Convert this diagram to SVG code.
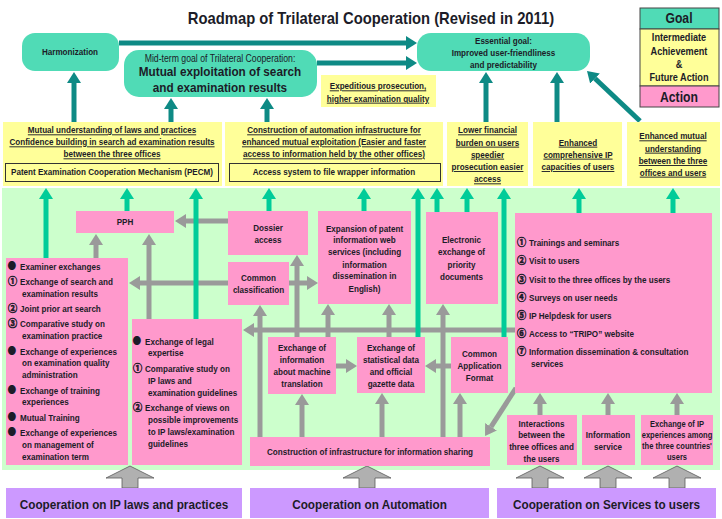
<svg xmlns="http://www.w3.org/2000/svg" width="722" height="519" viewBox="0 0 722 519">
<defs>
<style>
.t{font-family:"Liberation Sans",Arial,"Noto Sans CJK JP",sans-serif;font-weight:bold;font-size:9.3px;fill:#1c1c28}
.c{text-anchor:middle}
.u{text-decoration:underline}
.b{font-family:"Noto Sans CJK JP",sans-serif;font-size:10px}
.n{font-size:10.5px;stroke:#1c1c28;stroke-width:0.6}
.goal{fill:#50dbb6}
.int{fill:#ffff99}
.act{fill:#ff99cc}
.coop{fill:#cc99ff}
.tk{stroke:#0e8a85;stroke-width:5;fill:none;marker-end:url(#hk)}
.gr{stroke:#00cc99;stroke-width:5;fill:none;marker-end:url(#hr)}
.gy{stroke:#9a9a9a;stroke-width:5;fill:none;marker-end:url(#hy)}
.big{fill:#b0b0b0;stroke:#5a5a5a;stroke-width:0.8}
</style>
<marker id="hk" viewBox="0 0 11 14" markerWidth="11" markerHeight="14" refX="0" refY="7" orient="auto" markerUnits="userSpaceOnUse"><path d="M0,0 L11,7 L0,14 z" fill="#0e8a85"/></marker>
<marker id="hr" viewBox="0 0 11 14" markerWidth="11" markerHeight="14" refX="0" refY="7" orient="auto" markerUnits="userSpaceOnUse"><path d="M0,0 L11,7 L0,14 z" fill="#00cc99"/></marker>
<marker id="hy" viewBox="0 0 11 14" markerWidth="11" markerHeight="14" refX="0" refY="7" orient="auto" markerUnits="userSpaceOnUse"><path d="M0,0 L11,7 L0,14 z" fill="#9a9a9a"/></marker>
</defs>
<rect width="722" height="519" fill="#ffffff"/>
<rect x="2" y="188" width="718" height="282" fill="#ccffcc"/>

<g id="title"><g transform="matrix(.87 0 0 1 48.23 0)"><text class="t c" x="371" y="24" style="font-size:17px">Roadmap of Trilateral Cooperation (Revised in 2011)</text></g></g>

<g id="legend">
<rect x="640" y="8" width="79" height="21" class="goal" stroke="#444" stroke-width="1"/>
<rect x="640" y="29" width="79" height="57" class="int" stroke="#444" stroke-width="1"/>
<rect x="640" y="86" width="79" height="21" class="act" stroke="#444" stroke-width="1"/>
<g transform="matrix(.87 0 0 1 88.27 0)">
<text class="t c" x="679" y="23.3" style="font-size:14px">Goal</text>
<text class="t c" x="679" y="41.5" style="font-size:10.5px">Intermediate</text>
<text class="t c" x="679" y="54.8" style="font-size:10.5px">Achievement</text>
<text class="t c" x="679" y="68" style="font-size:10.5px">&amp;</text>
<text class="t c" x="679" y="81.1" style="font-size:10.5px">Future Action</text>
<text class="t c" x="679" y="101.7" style="font-size:14px">Action</text>
</g>
</g>

<g id="connectors">
<path class="gy" d="M228,221 H186"/>
<path class="gy" d="M96,258 V245"/>
<path class="gy" d="M149,319 V245"/>
<path class="gy" d="M228,283 H140"/>
<path class="gy" d="M289,283 H307"/>
<path class="gy" d="M515,330 H254"/>
<path class="gy" d="M260,437 V316"/>
<path class="gy" d="M297,337 V266"/>
<path class="gy" d="M328,337 V315"/>
<path class="gy" d="M389,337 V315"/>
<path class="gy" d="M443,437 V315"/>
<path class="gy" d="M302,437 V405"/>
<path class="gy" d="M382,437 V404"/>
<path class="gy" d="M460,437 V404"/>
<path class="gy" d="M336,366 H346"/>
<path class="gy" d="M451,366 H436"/>
<path class="gy" d="M516,388 L491,426.8"/>
<path class="gy" d="M540,415 V404"/>
<path class="gy" d="M608,415 V404"/>
<path class="gy" d="M677,415 V404"/>
<path class="gr" d="M46,258 V199"/>
<path class="gr" d="M127,211 V199"/>
<path class="gr" d="M196,319 V199"/>
<path class="gr" d="M269,211 V199"/>
<path class="gr" d="M364,211 V199"/>
<path class="gr" d="M418,337 V199"/>
<path class="gr" d="M437,212 V199"/>
<path class="gr" d="M467,212 V199"/>
<path class="gr" d="M504,337 V199"/>
<path class="gr" d="M579,213 V199"/>
<path class="gr" d="M673,213 V199"/>
<path class="tk" d="M119,43 H406"/>
<path class="tk" d="M317,63 H406"/>
<path class="tk" d="M74,122 V83"/>
<path class="tk" d="M171,122 V109"/>
<path class="tk" d="M267,122 V109"/>
<path class="tk" d="M486,122 V83"/>
<path class="tk" d="M557,122 V83"/>
<path class="tk" d="M640,121 L595,78.5"/>
<polygon class="big" points="130,466 154,478 138,478 138,488 122,488 122,478 106,478"/>
<polygon class="big" points="367,466 391,478 375,478 375,488 359,488 359,478 343,478"/>
<polygon class="big" points="540,466 564,478 548,478 548,488 532,488 532,478 516,478"/>
<polygon class="big" points="608,466 632,478 616,478 616,488 600,488 600,478 584,478"/>
<polygon class="big" points="677,466 701,478 685,478 685,488 669,488 669,478 653,478"/>
</g>

<g id="harmonization">
<rect x="22" y="33" width="97" height="38" rx="13" class="goal"/>
<g transform="matrix(.87 0 0 1 9.1 0)"><text class="t c" x="70" y="55.5">Harmonization</text></g>
</g>
<g id="midterm">
<rect x="124" y="50" width="193" height="47" rx="15" class="goal"/>
<g transform="matrix(.87 0 0 1 28.6 0)">
<text class="t c" x="220" y="62" style="font-size:10px;font-weight:normal">Mid-term goal of Trilateral Cooperation:</text>
<text class="t c" x="220" y="76.5" style="font-size:13.5px">Mutual exploitation of search</text>
<text class="t c" x="220" y="92" style="font-size:13.5px">and examination results</text>
</g>
</g>
<g id="essential">
<rect x="417" y="33" width="173" height="38" rx="14" class="goal"/>
<g transform="matrix(.87 0 0 1 65.46 0)">
<text class="t c" x="503.5" y="44.3">Essential goal:</text>
<text class="t c" x="503.5" y="56">Improved user-friendliness</text>
<text class="t c" x="503.5" y="67.6">and predictability</text>
</g>
</g>
<g id="expeditious">
<rect x="321" y="75" width="115" height="32" class="int"/>
<g transform="matrix(.87 0 0 1 49.14 0)">
<text class="t c u" x="378" y="89.3">Expeditious prosecution,</text>
<text class="t c u" x="378" y="101.6">higher examination quality</text>
</g>
</g>

<g id="int-laws">
<rect x="3" y="122" width="219" height="64" class="int"/>
<rect x="5.5" y="163.5" width="213" height="18" fill="none" stroke="#333" stroke-width="1"/>
<g transform="matrix(.87 0 0 1 14.56 0)">
<text class="t c u" x="112" y="133.3">Mutual understanding of laws and practices</text>
<text class="t c u" x="112" y="145.3">Confidence building in search ad examination results</text>
<text class="t c u" x="112" y="157.3">between the three offices</text>
<text class="t c" x="112" y="175.5">Patent Examination Cooperation Mechanism (PECM)</text>
</g>
</g>
<g id="int-automation">
<rect x="225" y="122" width="218" height="64" class="int"/>
<rect x="229.5" y="163.5" width="211" height="18" fill="none" stroke="#333" stroke-width="1"/>
<g transform="matrix(.87 0 0 1 43.42 0)">
<text class="t c u" x="334" y="133.3">Construction of automation infrastructure for</text>
<text class="t c u" x="334" y="145.3">enhanced mutual exploitation (Easier and faster</text>
<text class="t c u" x="334" y="157.3">access to information held by the other offices)</text>
<text class="t c" x="334" y="175.5">Access system to file wrapper information</text>
</g>
</g>
<g id="int-burden">
<rect x="447" y="122" width="81" height="64" class="int"/>
<g transform="matrix(.87 0 0 1 63.38 0)">
<text class="t c u" x="487.5" y="133.3">Lower financial</text>
<text class="t c u" x="487.5" y="145.6">burden on users</text>
<text class="t c u" x="487.5" y="157.6">speedier</text>
<text class="t c u" x="487.5" y="170">prosecution easier</text>
<text class="t c u" x="487.5" y="182.3">access</text>
</g>
</g>
<g id="int-capacities">
<rect x="533" y="122" width="89" height="64" class="int"/>
<g transform="matrix(.87 0 0 1 75.14 0)">
<text class="t c u" x="578" y="145.6">Enhanced</text>
<text class="t c u" x="578" y="157.6">comprehensive IP</text>
<text class="t c u" x="578" y="170">capacities of users</text>
</g>
</g>
<g id="int-understanding">
<rect x="627" y="122" width="93" height="64" class="int"/>
<g transform="matrix(.87 0 0 1 87.49 0)">
<text class="t c u" x="673" y="139.3">Enhanced mutual</text>
<text class="t c u" x="673" y="151.6">understanding</text>
<text class="t c u" x="673" y="164">between the three</text>
<text class="t c u" x="673" y="175.6">offices and users</text>
</g>
</g>

<g id="pph">
<rect x="76" y="211" width="98" height="22" class="act"/>
<g transform="matrix(.87 0 0 1 16.25 0)"><text class="t c" x="125" y="225.5">PPH</text></g>
</g>
<g id="examiner-list">
<rect x="6" y="258" width="122" height="207" class="act"/>
<g transform="matrix(.87 0 0 1 1.04 0)">
<text class="t" y="270.3"><tspan class="b" x="7.5">●</tspan><tspan x="21.8">Examiner exchanges</tspan></text>
<text class="t" y="285.3"><tspan class="n" x="8">①</tspan><tspan x="21.8">Exchange of search and</tspan></text>
<text class="t" x="24.1" y="297.3">examination results</text>
<text class="t" y="312.3"><tspan class="n" x="8">②</tspan><tspan x="21.8">Joint prior art search</tspan></text>
<text class="t" y="327.3"><tspan class="n" x="8">③</tspan><tspan x="21.8">Comparative study on</tspan></text>
<text class="t" x="24.1" y="339.3">examination practice</text>
<text class="t" y="355.3"><tspan class="b" x="7.5">●</tspan><tspan x="21.8">Exchange of experiences</tspan></text>
<text class="t" x="24.1" y="366.3">on examination quality</text>
<text class="t" x="24.1" y="378.3">administration</text>
<text class="t" y="394.3"><tspan class="b" x="7.5">●</tspan><tspan x="21.8">Exchange of training</tspan></text>
<text class="t" x="24.1" y="405.3">experiences</text>
<text class="t" y="421.3"><tspan class="b" x="7.5">●</tspan><tspan x="21.8">Mutual Training</tspan></text>
<text class="t" y="436.3"><tspan class="b" x="7.5">●</tspan><tspan x="21.8">Exchange of experiences</tspan></text>
<text class="t" x="24.1" y="448.3">on management of</text>
<text class="t" x="24.1" y="460.3">examination term</text>
</g>
</g>
<g id="legal-list">
<rect x="132" y="319" width="110" height="146" class="act"/>
<g transform="matrix(.87 0 0 1 17.29 0)">
<text class="t" y="345.3"><tspan class="b" x="132.5">●</tspan><tspan x="146.8">Exchange of legal</tspan></text>
<text class="t" x="150.2" y="356.3">expertise</text>
<text class="t" y="372.3"><tspan class="n" x="133">①</tspan><tspan x="146.8">Comparative study on</tspan></text>
<text class="t" x="150.2" y="384.3">IP laws  and</text>
<text class="t" x="150.2" y="396.3">examination guidelines</text>
<text class="t" y="411.3"><tspan class="n" x="133">②</tspan><tspan x="146.8">Exchange of views on</tspan></text>
<text class="t" x="150.2" y="423.3">possible improvements</text>
<text class="t" x="150.2" y="435.3">to IP laws/examination</text>
<text class="t" x="150.2" y="447.3">guidelines</text>
</g>
</g>
<g id="dossier">
<rect x="228" y="211" width="80" height="44" class="act"/>
<g transform="matrix(.87 0 0 1 34.84 0)">
<text class="t c" x="268" y="231">Dossier</text>
<text class="t c" x="268" y="243.3">access</text>
</g>
</g>
<g id="classification">
<rect x="228" y="262" width="61" height="43" class="act"/>
<g transform="matrix(.87 0 0 1 33.6 0)">
<text class="t c" x="258.5" y="281">Common</text>
<text class="t c" x="258.5" y="293.3">classification</text>
</g>
</g>
<g id="expansion">
<rect x="318" y="211" width="93" height="93" class="act"/>
<g transform="matrix(.87 0 0 1 47.39 0)">
<text class="t c" x="364.5" y="231.6">Expansion of patent</text>
<text class="t c" x="364.5" y="242.6">information web</text>
<text class="t c" x="364.5" y="255">services (including</text>
<text class="t c" x="364.5" y="267.6">information</text>
<text class="t c" x="364.5" y="279.3">dissemination in</text>
<text class="t c" x="364.5" y="291.6">English)</text>
</g>
</g>
<g id="priority">
<rect x="426" y="212" width="72" height="92" class="act"/>
<g transform="matrix(.87 0 0 1 60 0)">
<text class="t c" x="461.5" y="243.3">Electronic</text>
<text class="t c" x="461.5" y="255.4">exchange of</text>
<text class="t c" x="461.5" y="267.6">priority</text>
<text class="t c" x="461.5" y="280">documents</text>
</g>
</g>
<g id="services-list">
<rect x="515" y="213" width="197" height="180" class="act"/>
<g transform="matrix(.87 0 0 1 67.21 0)">
<text class="t" y="246.3"><tspan class="n" x="517">①</tspan><tspan x="530.8">Trainings and seminars</tspan></text>
<text class="t" y="264.3"><tspan class="n" x="517">②</tspan><tspan x="530.8">Visit to users</tspan></text>
<text class="t" y="282.6"><tspan class="n" x="517">③</tspan><tspan x="530.8">Visit to the three offices by the users</tspan></text>
<text class="t" y="300.6"><tspan class="n" x="517">④</tspan><tspan x="530.8">Surveys on user needs</tspan></text>
<text class="t" y="319"><tspan class="n" x="517">⑤</tspan><tspan x="530.8">IP Helpdesk for users</tspan></text>
<text class="t" y="337"><tspan class="n" x="517">⑥</tspan><tspan x="530.8">Access to “TRIPO” website</tspan></text>
<text class="t" y="355"><tspan class="n" x="517">⑦</tspan><tspan x="530.8">Information dissemination &amp; consultation</tspan></text>
<text class="t" x="533.1" y="367.3">services</text>
</g>
</g>
<g id="machine-translation">
<rect x="268" y="337" width="68" height="57" class="act"/>
<g transform="matrix(.87 0 0 1 39.26 0)">
<text class="t c" x="302" y="350.6">Exchange of</text>
<text class="t c" x="302" y="362.6">information</text>
<text class="t c" x="302" y="375">about machine</text>
<text class="t c" x="302" y="386.6">translation</text>
</g>
</g>
<g id="statistical">
<rect x="357" y="337" width="68" height="56" class="act"/>
<g transform="matrix(.87 0 0 1 50.83 0)">
<text class="t c" x="391" y="350.6">Exchange of</text>
<text class="t c" x="391" y="362.6">statistical data</text>
<text class="t c" x="391" y="375">and official</text>
<text class="t c" x="391" y="386.6">gazette data</text>
</g>
</g>
<g id="caf">
<rect x="451" y="337" width="57" height="56" class="act"/>
<g transform="matrix(.87 0 0 1 62.34 0)">
<text class="t c" x="479.5" y="356.6">Common</text>
<text class="t c" x="479.5" y="369">Application</text>
<text class="t c" x="479.5" y="380.6">Format</text>
</g>
</g>
<g id="infrastructure">
<rect x="250" y="437" width="240" height="29" class="act"/>
<g transform="matrix(.87 0 0 1 48.1 0)"><text class="t c" x="370" y="455.3">Construction of infrastructure for information sharing</text></g>
</g>
<g id="interactions">
<rect x="507" y="415" width="70" height="50" class="act"/>
<g transform="matrix(.87 0 0 1 70.4 0)">
<text class="t c" x="541.5" y="426.6">Interactions</text>
<text class="t c" x="541.5" y="438.3">between the</text>
<text class="t c" x="541.5" y="450">three offices and</text>
<text class="t c" x="541.5" y="462.3">the users</text>
</g>
</g>
<g id="information-service">
<rect x="582" y="415" width="53" height="50" class="act"/>
<g transform="matrix(.87 0 0 1 79.04 0)">
<text class="t c" x="608" y="438.3">Information</text>
<text class="t c" x="608" y="450">service</text>
</g>
</g>
<g id="ip-experiences">
<rect x="641" y="415" width="72" height="50" class="act"/>
<g transform="matrix(.87 0 0 1 88.01 0)">
<text class="t c" x="677" y="427.3" style="font-size:8.7px">Exchange of IP</text>
<text class="t c" x="677" y="438" style="font-size:8.7px">experiences among</text>
<text class="t c" x="677" y="448.7" style="font-size:8.7px">the three countries'</text>
<text class="t c" x="677" y="459.7" style="font-size:8.7px">users</text>
</g>
</g>

<g id="coop-laws">
<rect x="6" y="488" width="236" height="30" class="coop"/>
<g transform="matrix(.87 0 0 1 16.12 0)"><text class="t c" x="124" y="508.8" style="font-size:13.5px">Cooperation on IP laws and practices</text></g>
</g>
<g id="coop-automation">
<rect x="250" y="488" width="239" height="30" class="coop"/>
<g transform="matrix(.87 0 0 1 48.04 0)"><text class="t c" x="369.5" y="508.8" style="font-size:13.5px">Cooperation on Automation</text></g>
</g>
<g id="coop-services">
<rect x="497" y="488" width="219" height="30" class="coop"/>
<g transform="matrix(.87 0 0 1 78.91 0)"><text class="t c" x="606.5" y="508.8" style="font-size:13.5px">Cooperation on Services to users</text></g>
</g>
</svg>
